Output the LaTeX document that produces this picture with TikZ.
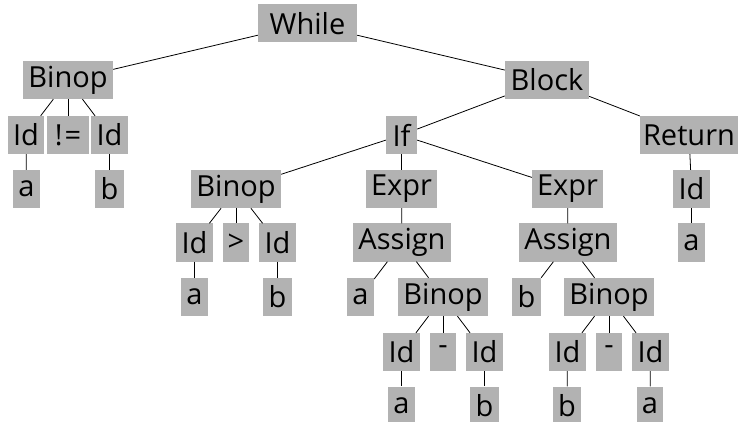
\documentclass[tikz,border=0pt]{standalone}
\usepackage{fontspec}
\setmainfont{Open Sans}
\definecolor{boxgray}{RGB}{178,178,178}
\tikzset{
  tn/.style={fill=boxgray, inner sep=0pt, minimum height=38pt, minimum width=#1,
             align=center, font=\fontsize{29}{29}\selectfont},
  tn/.default=30pt,
  edge/.style={line width=0.8pt, black}
}
\newcommand{\raiseddash}{\raisebox{4pt}{-}}
\begin{document}
\begin{tikzpicture}[x=1pt, y=-1pt]
\useasboundingbox (0,0) rectangle (739,422);
% row 0
\node[tn=99pt] (while) at (307.5,23.5) {While};
% row 1
\node[tn=90pt] (bin1) at (68,80) {Binop};
\node[tn=84pt] (block) at (547,80) {Block};
% row 2
\node[tn=36pt] (id1) at (26,135) {Id};
\node[tn=42pt] (neq) at (68,135) {!\kern2pt=};
\node[tn=37pt] (id2) at (109.5,135) {Id};
\node[tn=31pt] (if) at (401.5,135) {If};
\node[tn=98pt] (ret) at (689,135) {Return};
% row 3
\node[tn=27pt] (a1) at (26.5,189) {a};
\node[tn=29pt] (b1) at (109.5,189) {b};
\node[tn=90pt] (bin2) at (236,189) {Binop};
\node[tn=71pt] (expr1) at (401.5,189) {Expr};
\node[tn=71pt] (expr2) at (567.5,189) {Expr};
\node[tn=37pt] (id3) at (691.5,189) {Id};
% row 4
\node[tn=37pt] (id4) at (194.5,242.5) {Id};
\node[tn=26pt] (gt) at (236,242.5) {>};
\node[tn=37pt] (id5) at (277.5,242.5) {Id};
\node[tn=98pt] (asg1) at (402,242.5) {Assign};
\node[tn=98pt] (asg2) at (568,242.5) {Assign};
\node[tn=27pt] (a2) at (691.5,242.5) {a};
% row 5
\node[tn=27pt] (a3) at (194.5,297) {a};
\node[tn=29pt] (b2) at (277.5,297) {b};
\node[tn=27pt] (a4) at (360.5,297) {a};
\node[tn=90pt] (bin3) at (443,297) {Binop};
\node[tn=29pt] (b3) at (526.5,297) {b};
\node[tn=90pt] (bin4) at (609,297) {Binop};
% row 6
\node[tn=37pt] (id6) at (401.5,352) {Id};
\node[tn=26pt] (min1) at (443,352) {\raiseddash};
\node[tn=37pt] (id7) at (484.5,352) {Id};
\node[tn=37pt] (id8) at (567.5,352) {Id};
\node[tn=26pt] (min2) at (609,352) {\raiseddash};
\node[tn=37pt] (id9) at (650.5,352) {Id};
% row 7
\node[tn=27pt] (a5) at (401.5,405.5) {a};
\node[tn=29pt] (b4) at (484.5,405.5) {b};
\node[tn=28pt] (b5) at (567,405.5) {b};
\node[tn=26pt] (a6) at (650,405.5) {a};
% connectors
\draw[edge] (while) -- (bin1);
\draw[edge] (while) -- (block);
\draw[edge] (bin1) -- (id1);
\draw[edge] (bin1) -- (neq);
\draw[edge] (bin1) -- (id2);
\draw[edge] (id1) -- (a1);
\draw[edge] (id2) -- (b1);
\draw[edge] (block) -- (if);
\draw[edge] (block) -- (ret);
\draw[edge] (ret) -- (id3);
\draw[edge] (id3) -- (a2);
\draw[edge] (if) -- (bin2);
\draw[edge] (if) -- (expr1);
\draw[edge] (if) -- (expr2);
\draw[edge] (bin2) -- (id4);
\draw[edge] (bin2) -- (gt);
\draw[edge] (bin2) -- (id5);
\draw[edge] (id4) -- (a3);
\draw[edge] (id5) -- (b2);
\draw[edge] (expr1) -- (asg1);
\draw[edge] (asg1) -- (a4);
\draw[edge] (asg1) -- (bin3);
\draw[edge] (bin3) -- (id6);
\draw[edge] (bin3) -- (min1);
\draw[edge] (bin3) -- (id7);
\draw[edge] (id6) -- (a5);
\draw[edge] (id7) -- (b4);
\draw[edge] (expr2) -- (asg2);
\draw[edge] (asg2) -- (b3);
\draw[edge] (asg2) -- (bin4);
\draw[edge] (bin4) -- (id8);
\draw[edge] (bin4) -- (min2);
\draw[edge] (bin4) -- (id9);
\draw[edge] (id8) -- (b5);
\draw[edge] (id9) -- (a6);
\end{tikzpicture}
\end{document}
